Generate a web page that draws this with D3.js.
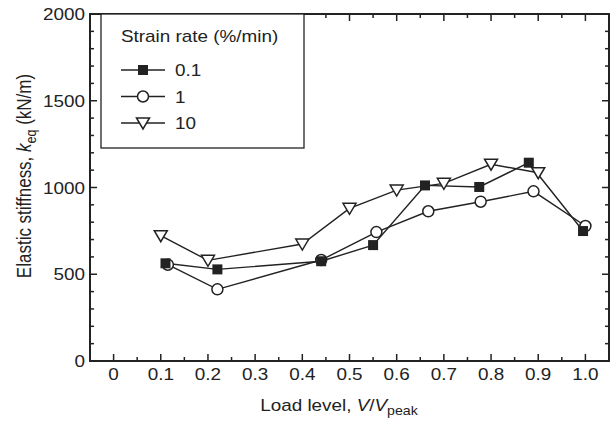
<!DOCTYPE html>
<html>
<head>
<meta charset="utf-8">
<script src="https://cdn.jsdelivr.net/npm/d3@7"></script>
<style>
  body { margin: 0; background: #fff; }
  text { font-family: "Liberation Sans", Arial, Helvetica, sans-serif; fill: #222; }
</style>
</head>
<body>
<script>
// series
const rate01X = [0.11, 0.22, 0.44, 0.55, 0.66, 0.775, 0.88, 0.995];
const rate01Y = [563, 528, 575, 668, 1012, 1003, 1143, 749];
const rate1X = [0.115, 0.22, 0.44, 0.557, 0.667, 0.778, 0.89, 1.0];
const rate1Y = [555, 413, 582, 743, 863, 918, 978, 778];
const rate10X = [0.1, 0.2, 0.4, 0.5, 0.6, 0.7, 0.8, 0.9];
const rate10Y = [722, 580, 674, 880, 985, 1024, 1134, 1085];
const xTicks = [0, 0.1, 0.2, 0.3, 0.4, 0.5, 0.6, 0.7, 0.8, 0.9, 1.0];
const yTicks = [0, 500, 1000, 1500, 2000];
const legendLabels = ["0.1", "1", "10"];

if (typeof document !== 'undefined') {
  const width = 612, height = 423;
  const margin = {left: 90, right: 3, top: 14, bottom: 62};
  const fs = 16, stretch = 1.18; // the original text is a bit wide

  const svg = d3.select('body').append('svg')
    .attr('width', width)
    .attr('height', height);

  // text placed at (tx,ty), widened horizontally like the source
  const label = (parent, tx, ty, anchor, rot) => parent.append('text')
    .attr('transform', `translate(${tx},${ty}) scale(${stretch},1)` + (rot ? ` rotate(${rot})` : ''))
    .attr('text-anchor', anchor).attr('font-size', fs);

  const x = d3.scaleLinear().domain([-0.05, 1.05]).range([margin.left, width - margin.right]);
  const y = d3.scaleLinear().domain([0, 2000]).range([height - margin.bottom, margin.top]);

  const x0 = margin.left, x1 = width - margin.right;
  const y0 = height - margin.bottom, y1 = margin.top;

  // minor + major ticks, all pointing inward
  const g = svg.append('g').attr('stroke', '#222').attr('stroke-width', 1.5);
  d3.range(0, 1.0001, 0.05).forEach(v => {
    const len = Math.abs(v * 10 - Math.round(v * 10)) < 1e-6 ? 7 : 4;
    g.append('line').attr('x1', x(v)).attr('x2', x(v)).attr('y1', y0).attr('y2', y0 - len);
    g.append('line').attr('x1', x(v)).attr('x2', x(v)).attr('y1', y1).attr('y2', y1 + len);
  });
  d3.range(0, 2001, 100).forEach(v => {
    const len = v % 500 === 0 ? 7 : 4;
    g.append('line').attr('y1', y(v)).attr('y2', y(v)).attr('x1', x0).attr('x2', x0 + len);
    g.append('line').attr('y1', y(v)).attr('y2', y(v)).attr('x1', x1).attr('x2', x1 - len);
  });

  svg.append('rect')
    .attr('x', x0).attr('y', y1)
    .attr('width', x1 - x0).attr('height', y0 - y1)
    .attr('fill', 'none').attr('stroke', '#222').attr('stroke-width', 2);

  // tick labels
  xTicks.forEach(d => label(svg, x(d), y0 + 19, 'middle')
    .text(d === 1 ? '1.0' : d3.format('.1~f')(d)));
  yTicks.forEach(d => label(svg, x0 - 5, y(d) + 6, 'end').text(d));

  // axis titles
  const xt = label(svg, 339, 411, 'middle');
  xt.append('tspan').text('Load level, ');
  xt.append('tspan').attr('font-style', 'italic').text('V');
  xt.append('tspan').text('/');
  xt.append('tspan').attr('font-style', 'italic').text('V');
  xt.append('tspan').attr('font-size', 12).attr('dy', 4).text('peak');

  const yt = label(svg, 31, 176, 'middle', -90).attr('font-size', 17);
  yt.append('tspan').text('Elastic stiffness, ');
  yt.append('tspan').attr('font-style', 'italic').text('k');
  yt.append('tspan').attr('font-size', 12.5).attr('dy', 4).text('eq');
  yt.append('tspan').attr('dy', -4).text(' (kN/m)');

  // markers
  const drawMarker = (sel, kind) => {
    if (kind === 'square') {
      sel.append('rect').attr('x', -5).attr('y', -5).attr('width', 10).attr('height', 10)
        .attr('fill', '#222');
    } else if (kind === 'circle') {
      sel.append('circle').attr('r', 5.5).attr('fill', '#fff')
        .attr('stroke', '#222').attr('stroke-width', 1.5);
    } else {
      sel.append('path').attr('d', 'M-6.5,-5L6.5,-5L0,6Z').attr('fill', '#fff')
        .attr('stroke', '#222').attr('stroke-width', 1.5);
    }
  };

  const series = [
    {xs: rate10X, ys: rate10Y, kind: 'tri'},
    {xs: rate1X, ys: rate1Y, kind: 'circle'},
    {xs: rate01X, ys: rate01Y, kind: 'square'}
  ];
  const line = d3.line().x(d => x(d[0])).y(d => y(d[1]));
  series.forEach(s => {
    const pts = s.xs.map((v, i) => [v, s.ys[i]]);
    svg.append('path').datum(pts).attr('d', line)
      .attr('fill', 'none').attr('stroke', '#222').attr('stroke-width', 1.4);
  });
  series.forEach(s => {
    s.xs.forEach((v, i) => {
      const m = svg.append('g').attr('transform', `translate(${x(v)},${y(s.ys[i])})`);
      drawMarker(m, s.kind);
    });
  });

  // legend
  const lg = svg.append('g');
  lg.append('rect').attr('x', 101).attr('y', y1).attr('width', 203).attr('height', 134)
    .attr('fill', '#fff').attr('stroke', '#222').attr('stroke-width', 1.3);
  label(lg, 121, 42, 'start').text('Strain rate (%/min)');
  const kinds = ['square', 'circle', 'tri'];
  legendLabels.forEach((lab, i) => {
    const ly = 70 + i * 26.5;
    lg.append('line').attr('x1', 121).attr('x2', 165).attr('y1', ly).attr('y2', ly)
      .attr('stroke', '#222').attr('stroke-width', 1.4);
    drawMarker(lg.append('g').attr('transform', `translate(143,${ly})`), kinds[i]);
    label(lg, 175, ly + 6, 'start').text(lab);
  });
}
</script>
</body>
</html>
